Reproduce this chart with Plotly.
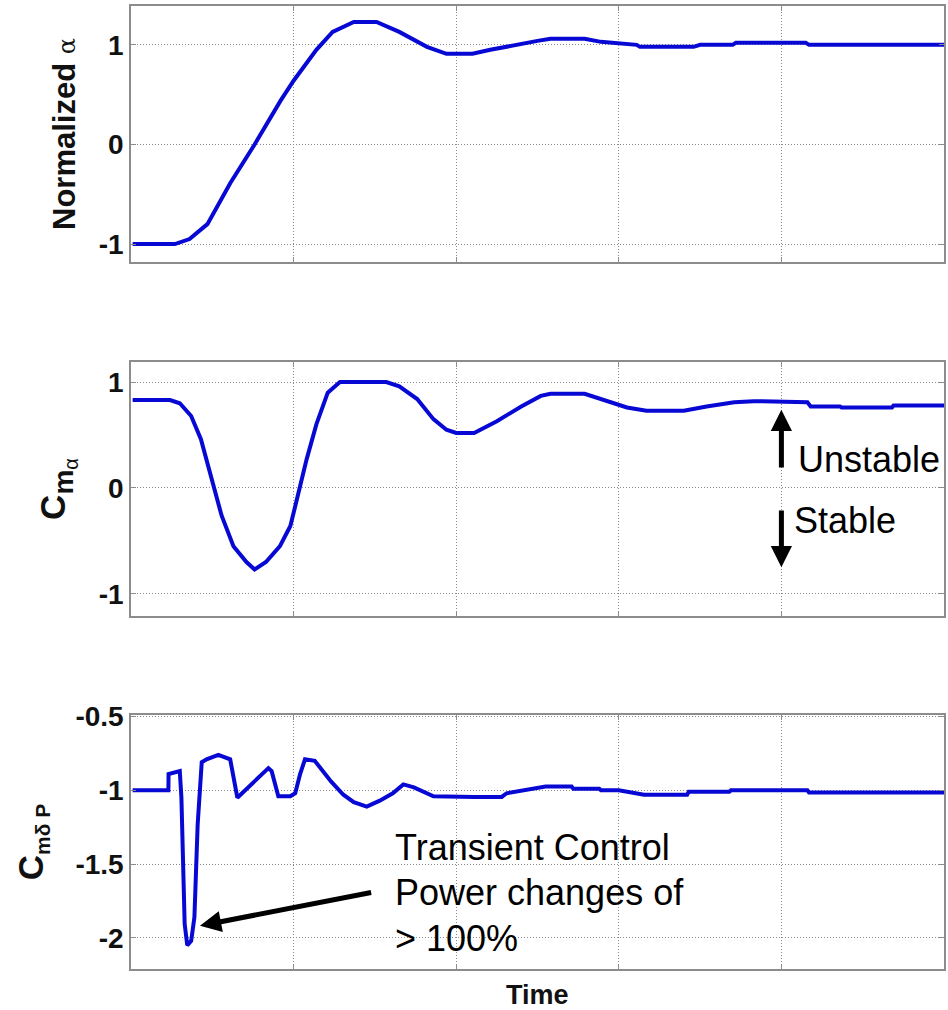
import plotly.graph_objects as go

# ---- data (time in arbitrary units 0..5) ----
t_alpha = [0.01, 0.27, 0.36, 0.47, 0.61, 0.76, 0.92, 1.00, 1.14, 1.24, 1.37, 1.51, 1.65, 1.82, 1.94,
           2.10, 2.21, 2.36, 2.50, 2.58, 2.79, 2.89, 3.11, 3.13, 3.46, 3.50, 3.70, 3.72, 4.15, 4.17, 5.00]
alpha_norm = [-1.0, -1.0, -0.95, -0.80, -0.39, 0.0, 0.44, 0.64, 0.95, 1.13, 1.23, 1.23, 1.13, 0.98, 0.91,
              0.91, 0.95, 1.00, 1.04, 1.06, 1.06, 1.03, 1.00, 0.98, 0.98, 1.00, 1.00, 1.02, 1.02, 1.00, 1.00]

t_cma = [0.01, 0.24, 0.30, 0.37, 0.43, 0.505, 0.557, 0.63, 0.71, 0.76, 0.83, 0.916, 0.98, 1.02, 1.08,
         1.14, 1.21, 1.285, 1.57, 1.65, 1.76, 1.86, 1.94, 2.00, 2.11, 2.25, 2.40, 2.52, 2.58, 2.79,
         2.93, 3.05, 3.17, 3.40, 3.54, 3.71, 3.83, 4.00, 4.16, 4.18, 4.36, 4.37, 4.68, 4.69, 5.00]
cm_alpha = [0.83, 0.83, 0.80, 0.68, 0.46, 0.02, -0.26, -0.55, -0.70, -0.77, -0.70, -0.55, -0.36, -0.11, 0.27,
            0.60, 0.90, 1.00, 1.00, 0.96, 0.84, 0.65, 0.55, 0.52, 0.52, 0.63, 0.77, 0.87, 0.89, 0.89,
            0.82, 0.76, 0.73, 0.73, 0.77, 0.81, 0.82, 0.815, 0.81, 0.77, 0.77, 0.76, 0.76, 0.78, 0.78]

t_cmdp = [0.01, 0.23, 0.231, 0.28, 0.30, 0.31, 0.33, 0.346, 0.37, 0.39, 0.41, 0.435, 0.465, 0.537, 0.61,
          0.654, 0.71, 0.77, 0.845, 0.865, 0.906, 0.98, 1.01, 1.04, 1.07, 1.13, 1.18, 1.23, 1.306, 1.37,
          1.45, 1.53, 1.61, 1.675, 1.74, 1.86, 2.11, 2.28, 2.31, 2.42, 2.50, 2.55, 2.71, 2.72, 2.88,
          2.89, 3.00, 3.155, 3.42, 3.43, 3.68, 3.69, 4.16, 4.17, 5.00]
cm_dp = [-1.0, -1.0, -0.89, -0.88, -0.87, -1.05, -1.905, -2.05, -2.02, -1.86, -1.23, -0.81, -0.79, -0.76, -0.79,
         -1.05, -0.99, -0.93, -0.85, -0.87, -1.04, -1.04, -1.02, -0.89, -0.79, -0.80, -0.87, -0.94, -1.03, -1.08,
         -1.11, -1.07, -1.02, -0.96, -0.98, -1.04, -1.045, -1.045, -1.02, -1.0, -0.99, -0.975, -0.975, -0.99, -0.99,
         -1.0, -1.0, -1.03, -1.03, -1.01, -1.01, -1.0, -1.0, -1.015, -1.015]

y1_ticks = [-1, 0, 1]
y2_ticks = [-1, 0, 1]
y3_ticks = [-2, -1.5, -1, -0.5]
y3_labels = ["-2", "-1.5", "-1", "-0.5"]
x_grid = [1, 2, 3, 4]

# ---- styling ----
LINE = dict(color="#0808d4", width=4)
FONT = "Arial, Liberation Sans, sans-serif"
GRID = "#8a8a8a"
FRAME = "#8c8c8c"
DASH = "1px,2px"

fig = go.Figure()
fig.add_trace(go.Scatter(x=t_alpha, y=alpha_norm, mode="lines", line=LINE, xaxis="x", yaxis="y"))
fig.add_trace(go.Scatter(x=t_cma, y=cm_alpha, mode="lines", line=LINE, xaxis="x2", yaxis="y2"))
fig.add_trace(go.Scatter(x=t_cmdp, y=cm_dp, mode="lines", line=LINE, xaxis="x3", yaxis="y3"))

W, H = 948, 1010
xdom = [131 / W, 944 / W]


def ydom(top, bot):
    return [1 - bot / H, 1 - top / H]


def xax(anchor):
    return dict(domain=xdom, range=[0, 5], anchor=anchor, tickvals=x_grid, showticklabels=False,
                showgrid=True, gridcolor=GRID, griddash=DASH, gridwidth=1, automargin=False,
                showline=True, linecolor=FRAME, linewidth=1.5, mirror="ticks",
                ticks="inside", ticklen=5, tickcolor=FRAME, zeroline=False)


def yax(anchor, dom, rng, tv, tt, title, standoff, tsize):
    return dict(domain=dom, range=rng, anchor=anchor, tickvals=tv, ticktext=tt,
                tickfont=dict(family=FONT, size=28, color="#111111", weight="bold"),
                showgrid=True, gridcolor=GRID, griddash=DASH, gridwidth=1, automargin=False,
                showline=True, linecolor=FRAME, linewidth=1.5, mirror="ticks",
                ticks="inside", ticklen=5, tickcolor=FRAME, zeroline=False,
                title=dict(text=title, standoff=standoff,
                           font=dict(family=FONT, size=tsize, color="#111111")))


fig.update_layout(
    width=W, height=H, margin=dict(l=0, r=0, t=0, b=0, autoexpand=False),
    paper_bgcolor="white", plot_bgcolor="white", showlegend=False,
    xaxis=xax("y"), xaxis2=xax("y2"), xaxis3=xax("y3"),
    yaxis=yax("x", ydom(6, 262), [-1.18, 1.39], y1_ticks, ["-1", "0", "1"],
              "<b>Normalized</b> <span style='font-family:DejaVu Serif;font-size:24px'>α</span>", 14, 31),
    yaxis2=yax("x2", ydom(362, 616), [-1.21, 1.19], y2_ticks, ["-1", "0", "1"],
               "<b>C</b><sub><span style='font-size:28px'><b>m</b></span>"
               "<sub><span style='font-size:20px'>α</span></sub></sub>", 22, 35),
    yaxis3=yax("x3", ydom(715, 969), [-2.21, -0.49], y3_ticks, y3_labels,
               "<b>C</b><sub><span style='font-size:21px'><b>mδ P</b></span></sub>", 21, 35),
)

ann_font = dict(family=FONT, size=36, color="black")
ARROW = dict(showarrow=True, arrowhead=2, arrowsize=0.85, arrowwidth=5, arrowcolor="black", text="")
annotations = [
    # Unstable / Stable arrows in middle panel
    dict(x=4.0, y=0.74, ax=4.0, ay=0.18, xref="x2", yref="y2", axref="x2", ayref="y2", **ARROW),
    dict(x=4.0, y=-0.75, ax=4.0, ay=-0.2, xref="x2", yref="y2", axref="x2", ayref="y2", **ARROW),
    dict(x=4.088, y=0.27, xref="x2", yref="y2", text="Unstable", showarrow=False,
         xanchor="left", yanchor="middle", font=ann_font),
    dict(x=4.065, y=-0.31, xref="x2", yref="y2", text="Stable", showarrow=False,
         xanchor="left", yanchor="middle", font=ann_font),
    # bottom panel arrow + text
    dict(x=0.424, y=-1.917, ax=1.486, ay=-1.69, xref="x3", yref="y3", axref="x3", ayref="y3", **ARROW),
    dict(x=1.611, y=-1.388, xref="x3", yref="y3", text="Transient Control", showarrow=False,
         xanchor="left", yanchor="middle", font=ann_font),
    dict(x=1.611, y=-1.692, xref="x3", yref="y3", text="Power changes of", showarrow=False,
         xanchor="left", yanchor="middle", font=ann_font),
    dict(x=1.611, y=-2.005, xref="x3", yref="y3", text="> 100%", showarrow=False,
         xanchor="left", yanchor="middle", font=ann_font),
    # x axis label
    dict(x=2.5, y=1 - 995 / H, xref="x3", yref="paper", text="<b>Time</b>", showarrow=False,
         xanchor="center", yanchor="middle", font=dict(family=FONT, size=27, color="#111111")),
]
fig.update_layout(annotations=annotations)

fig.write_html("out.html", config={"displayModeBar": False},
               post_script="document.body.style.margin='0';")
